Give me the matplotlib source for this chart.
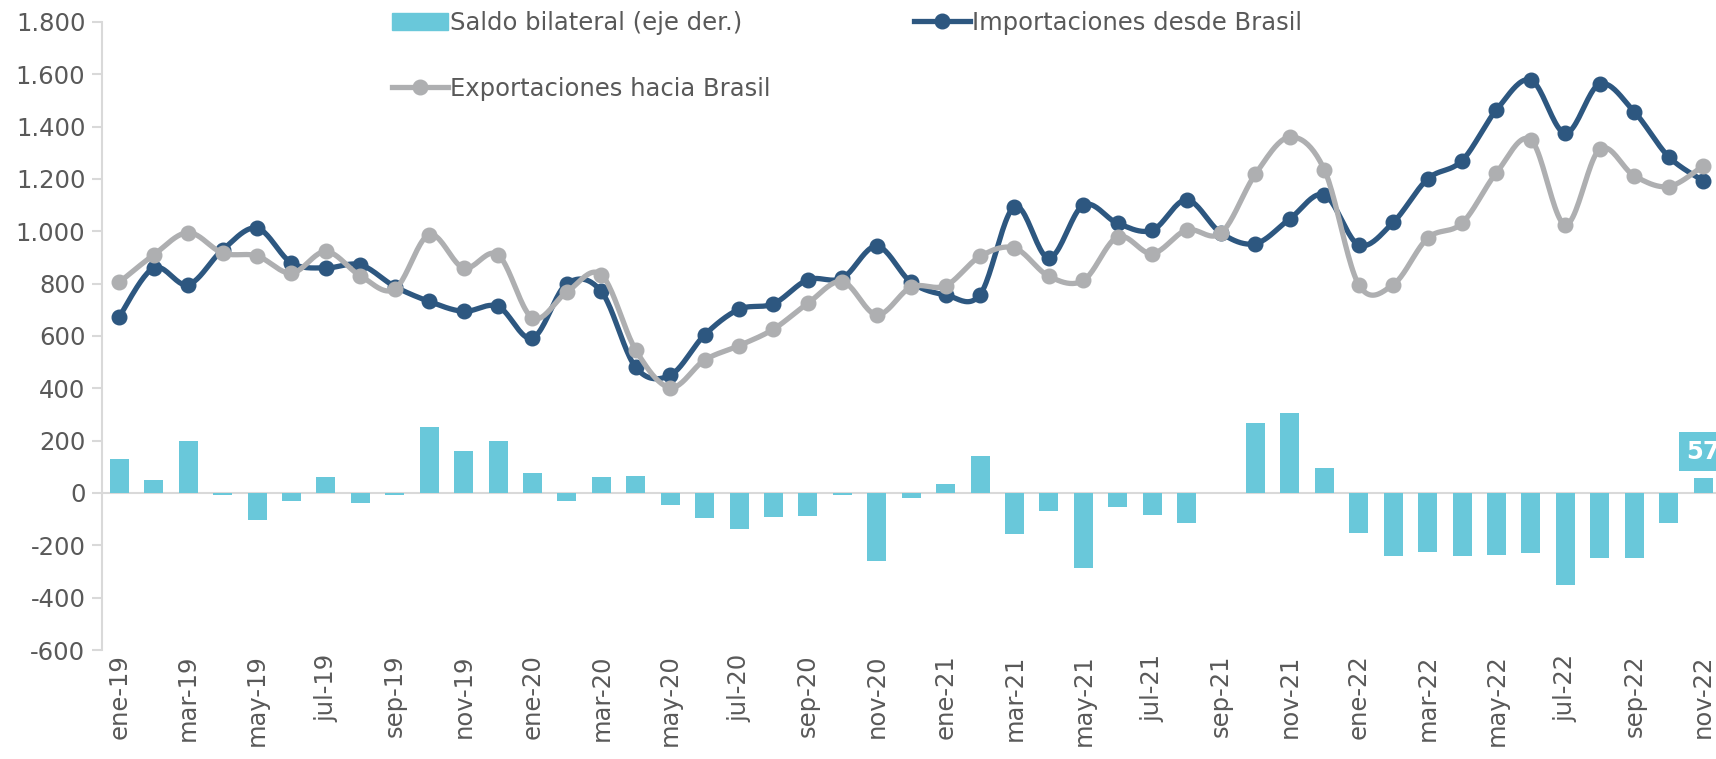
import numpy as np
import matplotlib
matplotlib.use("Agg")
import matplotlib.pyplot as plt
from matplotlib.lines import Line2D
from matplotlib.patches import Patch
from matplotlib.ticker import FuncFormatter

# monthly series, ene-19 .. nov-22 (USD millones)
meses = ["ene", "feb", "mar", "abr", "may", "jun", "jul", "ago", "sep", "oct", "nov", "dic"]
labels = [m + "-" + a for a in ["19", "20", "21", "22"] for m in meses][:47]

importaciones = [674, 860, 796, 929, 1012, 879, 860, 872, 789, 732, 694, 713,
                 592, 800, 770, 480, 450, 604, 702, 723, 815, 821, 943, 805,
                 757, 758, 1094, 898, 1100, 1030, 1004, 1120, 993, 953, 1048, 1139,
                 948, 1034, 1200, 1270, 1464, 1578, 1375, 1563, 1457, 1285, 1193]

exportaciones = [805, 910, 995, 917, 906, 840, 923, 830, 779, 987, 860, 910,
                 669, 768, 834, 546, 403, 508, 563, 626, 725, 808, 681, 787,
                 792, 904, 936, 828, 812, 979, 915, 1005, 993, 1219, 1360, 1235,
                 796, 796, 974, 1031, 1224, 1349, 1025, 1314, 1212, 1171, 1250]

saldo = [129, 51, 197, -6, -104, -32, 61, -37, -9, 253, 161, 199,
         76, -32, 60, 66, -47, -95, -137, -93, -89, -9, -259, -18,
         36, 142, -157, -70, -286, -52, -86, -114, 0, 266, 307, 97,
         -153, -240, -226, -242, -238, -230, -350, -247, -247, -114, 57]

c_bar = "#69C8DA"
c_imp = "#2D5780"
c_exp = "#AEAFB1"
c_txt = "#595959"
c_ax = "#D9D9D9"


def smooth(y, n=24):
    # excel-like smoothed line: cubic bezier through each pair of points
    x = np.arange(len(y), dtype=float)
    p = np.column_stack([x, np.asarray(y, dtype=float)])
    xs, ys = [], []
    for i in range(len(p) - 1):
        p0 = p[max(i - 1, 0)]
        p1 = p[i]
        p2 = p[i + 1]
        p3 = p[min(i + 2, len(p) - 1)]
        c1 = p1 + (p2 - p0) / 6.0
        c2 = p2 - (p3 - p1) / 6.0
        t = np.linspace(0, 1, n)[:, None]
        b = ((1 - t) ** 3) * p1 + 3 * ((1 - t) ** 2) * t * c1 + 3 * (1 - t) * t ** 2 * c2 + t ** 3 * p2
        xs.append(b[:, 0])
        ys.append(b[:, 1])
    return np.concatenate(xs), np.concatenate(ys)


plt.rcParams["font.family"] = "DejaVu Sans"
fs = 17.5

fig = plt.figure(figsize=(17.16, 7.59), dpi=100)
ax = fig.add_axes([0.0595, 0.1436, 0.943, 0.8275])

x = np.arange(len(labels))
ax.bar(x, saldo, width=0.55, color=c_bar, zorder=2)
ax.axhline(0, color=c_ax, lw=1.5, zorder=1)

sx, sy = smooth(importaciones)
ax.plot(sx, sy, color=c_imp, lw=3.8, solid_capstyle="round", zorder=3)
ax.plot(x, importaciones, "o", color=c_imp, ms=10.5, zorder=3)

sx, sy = smooth(exportaciones)
ax.plot(sx, sy, color=c_exp, lw=3.8, solid_capstyle="round", zorder=4)
ax.plot(x, exportaciones, "o", color=c_exp, ms=10.5, zorder=4)

# data label on the last bar (cut by the right edge, as in the original)
ax.text(x[-1], 158, str(saldo[-1]), ha="center", va="center", color="white",
        fontsize=fs, fontweight="bold", zorder=5,
        bbox=dict(boxstyle="square,pad=0.3", fc=c_bar, ec="none"))

ax.set_xlim(-0.5, len(labels) - 0.5)
ax.set_ylim(-600, 1800)
ax.set_yticks(np.arange(-600, 1801, 200))
ax.yaxis.set_major_formatter(FuncFormatter(lambda v, p: f"{int(v):,}".replace(",", ".")))
ax.set_xticks(x[::2])
ax.set_xticklabels(labels[::2], rotation=90)

for s in ["top", "right", "bottom"]:
    ax.spines[s].set_visible(False)
ax.spines["left"].set_color(c_ax)
ax.spines["left"].set_linewidth(1.5)
ax.tick_params(axis="y", colors=c_ax, labelcolor=c_txt, labelsize=fs, length=7, width=1.5, pad=5)
ax.tick_params(axis="x", length=0, labelcolor=c_txt, labelsize=fs, pad=3)

handles = [
    Patch(color=c_bar),
    Line2D([], [], color=c_exp, lw=3.8, marker="o", ms=10.5),
    Line2D([], [], color=c_imp, lw=3.8, marker="o", ms=10.5),
]
names = ["Saldo bilateral (eje der.)", "Exportaciones hacia Brasil", "Importaciones desde Brasil"]
fig.legend(handles, names, loc="upper left", bbox_to_anchor=(0.222, 1.0), ncol=2,
           frameon=False, fontsize=fs, labelcolor=c_txt, handlelength=2.3,
           handletextpad=0.1, columnspacing=5.9, labelspacing=1.72, borderaxespad=0.05)

fig.savefig("out.png", dpi=100)
